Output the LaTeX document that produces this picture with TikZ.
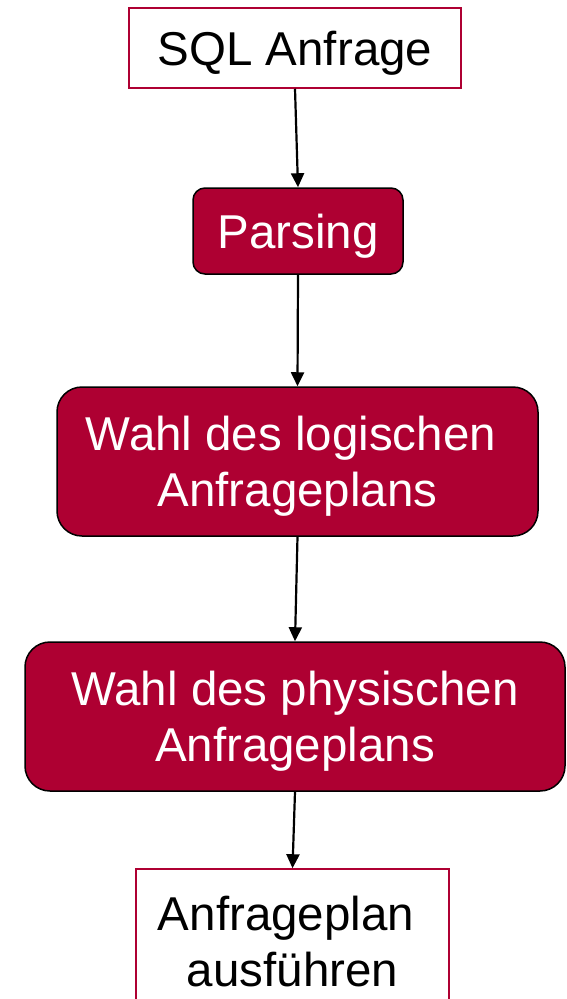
\documentclass[tikz,border=0pt]{standalone}
\usepackage{fontspec}
\setmainfont{Liberation Sans}
\usetikzlibrary{arrows.meta}
\definecolor{unirot}{HTML}{AE0032}
\newcommand{\hochstrut}{\rule{0pt}{44pt}}
\tikzset{
  plainbox/.style={rectangle,draw=unirot,line width=1.5pt,fill=white,inner sep=0pt,align=center},
  redbox/.style={rectangle,rounded corners=#1,draw=black,line width=1.5pt,fill=unirot,text=white,inner sep=0pt,align=center},
  redbox/.default=12pt,
  flow/.style={-{Triangle[length=14pt,width=13pt]},line width=2.2pt}
}
\begin{document}
\begin{tikzpicture}[x=1pt,y=1pt,font=\fontsize{47.5}{56}\selectfont]
  \clip (0,0) rectangle (566,-999);
  \node (Sql) [plainbox,minimum width=332pt,minimum height=80pt] at (295,-48) {\hochstrut SQL Anfrage};
  \node (Parsing) [redbox,minimum width=210pt,minimum height=86pt] at (298,-231) {\hochstrut Parsing};
  \node (Logisch) [redbox=25pt,minimum width=481pt,minimum height=149pt] at (297.5,-461.5) {\hochstrut Wahl des logischen\kern13pt\\Anfrageplans};
  \node (Physisch) [redbox=25pt,minimum width=540pt,minimum height=149pt] at (295,-716.5) {\hochstrut Wahl des physischen\\Anfrageplans};
  \node (Ausfuehren) [plainbox,minimum width=313pt,minimum height=136pt] at (292.5,-937) {\hochstrut Anfrageplan\kern13pt\\ausführen};
  % Ablauf
  \draw [flow] (Sql.south) -- (Parsing.north);
  \draw [flow] (Parsing.south) -- (Logisch.north);
  \draw [flow] (Logisch.south) -- (Physisch.north);
  \draw [flow] (Physisch.south) -- (Ausfuehren.north);
\end{tikzpicture}
\end{document}
